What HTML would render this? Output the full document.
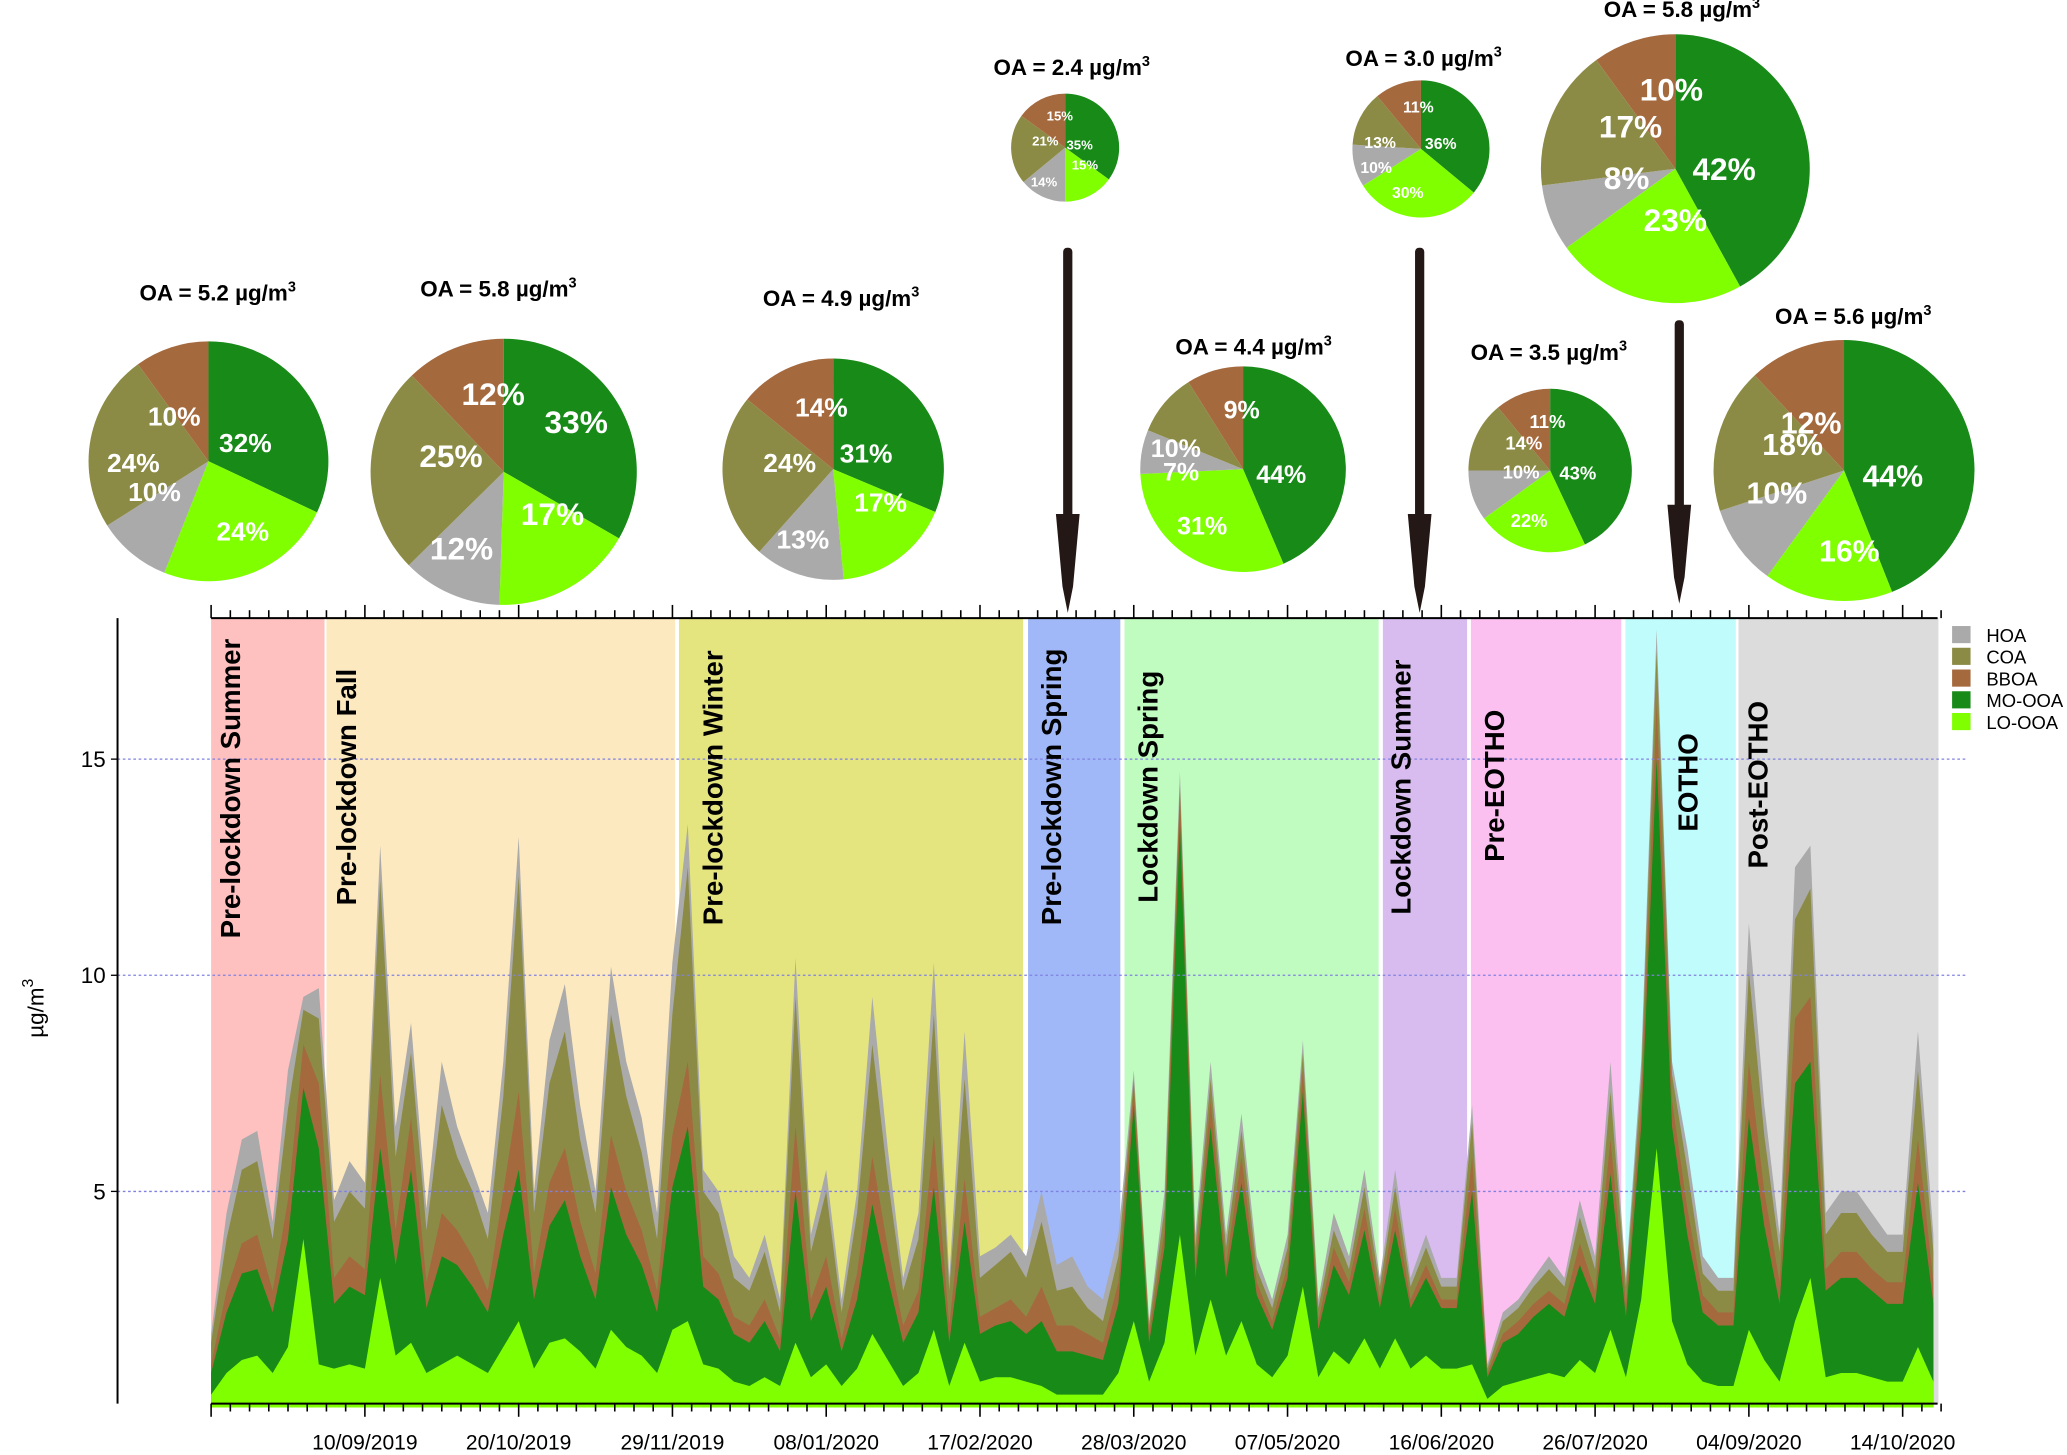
<!DOCTYPE html>
<html><head><meta charset="utf-8"><style>
html,body{margin:0;padding:0;background:#fff}
svg{display:block;font-family:"Liberation Sans",Arial,sans-serif}
</style></head><body>
<svg id="chart" width="2067" height="1455" viewBox="0 0 1568 1104" xmlns="http://www.w3.org/2000/svg">
<g id="bg"></g><g id="areas"></g><g id="grid"></g><g id="axes"></g><g id="labels"></g><g id="pies"></g><g id="arrows"></g><g id="legend"></g>
</svg>
<script>
// ---- data (4-day steps starting 01/08/2019) ----
const dayStep = 4;
const LO = [.3,.8,1.1,1.2,.8,1.4,3.9,1.0,.9,1.0,.9,3.0,1.2,1.5,.8,1.0,1.2,1.0,.8,1.4,2.0,.9,1.5,1.6,1.3,.9,1.8,1.4,1.2,.8,1.8,2.0,1.0,.9,.6,.5,.7,.5,1.5,.7,1.0,.5,.9,1.7,1.1,.5,.8,1.8,.5,1.5,.6,.7,.7,.6,.5,.3,.3,.3,.3,.8,2.0,.6,1.5,4.0,1.2,2.5,1.2,2.0,1.0,.7,1.2,2.8,.7,1.3,1.0,1.6,.9,1.6,.9,1.2,.9,.9,1.0,.2,.5,.6,.7,.8,.7,1.1,.8,1.8,.7,2.5,6.0,2.0,1.0,.6,.5,.5,1.8,1.1,.6,2.0,3.0,.7,.8,.8,.7,.6,.6,1.4,.6];
const MO = [.5,1.4,2.0,2.0,1.4,2.5,3.5,5.0,1.5,1.8,1.7,3.0,2.1,4.0,1.5,2.5,2.1,1.8,1.4,2.6,3.5,1.6,2.7,3.2,2.2,1.6,3.3,2.6,2.1,1.4,3.3,4.5,1.8,1.6,1.1,1.0,1.3,.8,3.5,1.3,1.8,.8,1.6,3.0,1.9,1.0,1.4,3.3,1.0,2.8,1.1,1.2,1.3,1.1,1.5,1.0,1.0,.9,.8,1.6,5.0,.9,2.2,9.5,1.8,4.0,1.8,3.2,1.6,1.1,1.8,4.5,1.1,2.0,1.6,2.5,1.4,2.5,1.4,1.8,1.4,1.4,4.0,.5,1.0,1.1,1.4,1.6,1.4,2.2,1.6,3.6,1.4,4.0,9.0,4.5,3.0,1.6,1.4,1.4,4.9,3.1,1.8,5.5,5.0,2.0,2.2,2.2,2.0,1.8,1.8,3.8,1.8];
const BBOA = [.2,.5,.7,.8,.5,.9,1.0,1.5,.6,.7,.6,1.7,.8,1.2,.6,1.0,.8,.7,.5,1.0,1.8,.6,1.0,1.2,.8,.6,1.2,1.0,.8,.5,1.2,1.5,.7,.6,.4,.4,.5,.3,1.5,.5,.7,.3,.6,1.1,.7,.4,.5,1.2,.4,1.0,.4,.4,.5,.4,.8,.6,.6,.5,.4,.5,.4,.2,.4,.7,.3,.6,.3,.6,.3,.2,.3,.5,.2,.4,.3,.5,.2,.5,.2,.3,.2,.2,.8,.1,.2,.3,.3,.3,.3,.5,.3,.8,.3,.5,1.3,.6,.6,.4,.3,.3,1.3,.8,.5,1.5,1.5,.5,.6,.6,.5,.5,.5,1.0,.5];
const COA = [.5,1.2,1.7,1.7,1.2,2.1,.8,1.5,1.3,1.5,1.4,4.5,1.7,1.5,1.2,2.5,1.7,1.5,1.2,2.2,5.0,1.4,2.3,2.7,1.9,1.4,2.8,2.2,1.8,1.2,2.8,4.5,1.5,1.4,.9,.8,1.1,.6,3.0,1.1,1.5,.6,1.4,2.6,1.6,.8,1.2,2.8,.8,2.3,.9,1.0,1.1,.9,1.5,.8,.9,.6,.5,.6,.2,.2,.5,.2,.4,.5,.4,.6,.3,.3,.4,.4,.3,.4,.3,.5,.3,.5,.3,.4,.3,.3,.8,.1,.3,.3,.4,.5,.4,.6,.5,1.1,.4,.6,1.2,.6,.9,.5,.5,.5,2.1,1.3,.7,2.3,2.5,.8,.9,.9,.8,.7,.7,1.6,.7];
const HOA = [.2,.6,.7,.7,.4,.9,.3,.7,.5,.7,.6,.8,.7,.7,.5,1.0,.7,.5,.6,.8,.9,.5,1.0,1.1,.8,.5,1.1,.8,.8,.6,1.2,1.0,.5,.5,.5,.3,.4,.3,.9,.4,.5,.3,.5,1.1,.7,.3,.6,1.2,.3,1.1,.5,.4,.4,.5,.7,.6,.7,.5,.5,.5,.2,.1,.4,.3,.3,.4,.3,.4,.3,.2,.3,.3,.2,.4,.3,.4,.2,.4,.2,.3,.2,.2,.4,.1,.2,.2,.2,.3,.2,.4,.3,.7,.2,.4,.5,.3,.5,.4,.3,.3,1.1,.7,.4,1.2,1.0,.5,.5,.5,.5,.4,.4,.9,.4];
const seriesNames = ["LO-OOA","MO-OOA","BBOA","COA","HOA"];
const seriesColors = ["#80ff00","#178a17","#a5693e","#8b8b45","#aaaaaa"];
const dateLabels = ["10/09/2019","20/10/2019","29/11/2019","08/01/2020","17/02/2020","28/03/2020","07/05/2020","16/06/2020","26/07/2020","04/09/2020","14/10/2020"];
const dateLabelDays = [40,80,120,160,200,240,280,320,360,400,440];
const yTicks = [5,10,15];
const periodNames = ["Pre-lockdown Summer","Pre-lockdown Fall","Pre-lockdown Winter","Pre-lockdown Spring","Lockdown Spring","Lockdown Summer","Pre-EOTHO","EOTHO","Post-EOTHO"];
const periodStart = [0,30,121.7,212.5,237.6,304.8,327.7,367.9,397.3];
const periodEnd = [29.5,120.7,211.2,236.5,303.7,326.7,366.8,396.6,449.3];
const periodColors = ["#ffc0c0","#fde9c0","#e5e580","#a0b8f8","#c0fcc0","#d8bcf0","#fcc0f0","#c0fcfc","#dcdcdc"];
const pieTitles = ["OA = 5.2","OA = 5.8","OA = 4.9","OA = 2.4","OA = 4.4","OA = 3.0","OA = 3.5","OA = 5.8","OA = 5.6"];
const pieMO = [32,33,31,35,44,36,43,42,44];
const pieLO = [24,17,17,15,31,30,22,23,16];
const pieHOA = [10,12,13,14,7,10,10,8,10];
const pieCOA = [24,25,24,21,10,13,14,17,18];
const pieBBOA = [10,12,14,15,9,11,11,10,12];

// ---- layout ----
const NS="http://www.w3.org/2000/svg";
const X0=160, PXD=2.917, Y0=1068, PXU=32.8, TOP=469, BOT=1065, XR=1470;
const xs=d=>X0+PXD*d, ys=v=>Y0-PXU*v;
function mk(tag,attrs,parent,text){const e=document.createElementNS(NS,tag);for(const k in attrs)e.setAttribute(k,attrs[k]);if(text!==undefined)e.textContent=text;parent.appendChild(e);return e;}
const G=id=>document.getElementById(id);

periodNames.forEach((p,i)=>{
  const r=mk('rect',{x:xs(periodStart[i]),y:TOP,width:xs(periodEnd[i])-xs(periodStart[i]),height:BOT-TOP,fill:periodColors[i]},G('bg'));
  
  
});

const series=[LO,MO,BBOA,COA,HOA];
const cum=LO.map(()=>0);
const layers=series.map(s=>s.map((v,i)=>cum[i]+=v));
for(let k=layers.length-1;k>=0;k--){
  let d='M'+xs(0)+','+ys(0);
  layers[k].forEach((v,i)=>{d+=' L'+xs(i*dayStep).toFixed(1)+','+ys(v).toFixed(1);});
  d+=' L'+xs((LO.length-1)*dayStep)+','+ys(0)+' Z';
  const p=mk('path',{d:d,fill:seriesColors[k]},G('areas'));
  
  
}

yTicks.forEach(t=>{
  const l=mk('line',{x1:89,x2:1492,y1:ys(t),y2:ys(t),stroke:'#8080e0','stroke-width':1,'stroke-dasharray':'2,2'},G('grid'));
  
  
  mk('line',{x1:84,x2:89,y1:ys(t),y2:ys(t),stroke:'#000'},G('axes'));
  const tx=mk('text',{x:80,y:ys(t)+6,'font-size':17,'text-anchor':'end'},G('axes'),String(t));
  
  
});
const ya=mk('line',{x1:89,x2:89,y1:TOP,y2:BOT,stroke:'#000','stroke-width':1.5},G('axes'));


const yt=mk('text',{transform:'translate(33,765) rotate(-90)','font-size':17,'text-anchor':'middle'},G('axes'));


yt.innerHTML='µg/m<tspan dy="-8" font-size="12">3</tspan>';

mk('line',{x1:X0,x2:XR,y1:TOP,y2:TOP,stroke:'#000','stroke-width':1.5},G('axes'));
const xa=mk('line',{x1:X0,x2:XR,y1:BOT,y2:BOT,stroke:'#000','stroke-width':1.5},G('axes'));


for(let d=0;d<=450;d+=5){
  const major=(d%40===0);const L=major?10:6;
  mk('line',{x1:xs(d),x2:xs(d),y1:TOP,y2:TOP-L,stroke:'#000','stroke-width':1.2},G('axes'));
  mk('line',{x1:xs(d),x2:xs(d),y1:BOT,y2:BOT+L,stroke:'#000','stroke-width':1.2},G('axes'));
}
dateLabels.forEach((s,i)=>{
  const t=mk('text',{x:xs(dateLabelDays[i]),y:1100,'font-size':16,'text-anchor':'middle'},G('axes'),s);
  
  
});

const plX=[182,270,548,805,878,1070,1141,1288,1341];
const plY=[712,687,702,702,685,694,654,631,659];
periodNames.forEach((p,i)=>{
  const t=mk('text',{transform:`translate(${plX[i]},${plY[i]}) rotate(-90)`,'font-size':21,'font-weight':'bold'},G('labels'),p);
  
  
});

const pieCX=[158,382,632,808,943,1078,1176,1271,1399];
const pieCY=[350,358,356,112,356,113,357,128,357];
const pieR=[91,101,84,41,78,52,62,102,99];
const titleX=[165,378,638,813,951,1080,1175,1276,1406];
const titleY=[228,225,232,57,269,50,273,13,246];
const pieFS=[20,24,20,10,19,12,14,24,23];
const lab=[
 [[186,336],[184,403],[117,373],[101,351],[132,316]],
 [[437,320],[419,390],[350,416],[342,346],[374,299]],
 [[657,344],[668,381],[609,409],[599,351],[623,309]],
 [[819,110],[823,125],[792,138],[793,107],[804,88]],
 [[972,360],[912,399],[896,358],[892,340],[942,311]],
 [[1093,109],[1068,146],[1044,127],[1047,108],[1076,81]],
 [[1197,359],[1160,395],[1154,358],[1156,336],[1174,320]],
 [[1308,128],[1271,167],[1234,135],[1237,96],[1268,68]],
 [[1436,361],[1403,418],[1348,374],[1360,337],[1374,321]]];
const pieCols=["#178a17","#80ff00","#aaaaaa","#8b8b45","#a5693e"];
pieTitles.forEach((tt,i)=>{
  const g=mk('g',{},G('pies'));
  
  
  const vals=[pieMO[i],pieLO[i],pieHOA[i],pieCOA[i],pieBBOA[i]];
  const tot=vals.reduce((a,b)=>a+b,0);
  let a=0;const cx=pieCX[i],cy=pieCY[i],r=pieR[i];
  vals.forEach((v,k)=>{
    const a1=a+v/tot*2*Math.PI;
    const x0=cx+r*Math.sin(a),y0=cy-r*Math.cos(a),x1=cx+r*Math.sin(a1),y1=cy-r*Math.cos(a1);
    const p=mk('path',{d:`M${cx},${cy} L${x0},${y0} A${r},${r} 0 ${a1-a>Math.PI?1:0} 1 ${x1},${y1} Z`,fill:pieCols[k]},g);
    
    
    a=a1;
  });
  vals.forEach((v,k)=>{
    const t=mk('text',{x:lab[i][k][0],y:lab[i][k][1]+pieFS[i]*0.35,'font-size':pieFS[i],'font-weight':'bold',fill:'#fff','text-anchor':'middle'},g,v+'%');
    
    
  });
  const t=mk('text',{x:titleX[i],y:titleY[i],'font-size':17,'font-weight':'bold','text-anchor':'middle'},g);
  
  
  t.innerHTML=tt+' µg/m<tspan dy="-7" font-size="11">3</tspan>';
});

[[810,188,465],[1077,188,465],[1274,243,458]].forEach(([x,y1,y2])=>{
  const g=mk('g',{},G('arrows'));
  
  
  mk('rect',{x:x-3.5,y:y1,width:7,height:(y2-y1)-70,rx:3,fill:'#231815'},g);
  mk('path',{d:`M${x-9},${y2-75} L${x+9},${y2-75} L${x+4},${y2-20} L${x},${y2} L${x-4},${y2-20} Z`,fill:'#231815'},g);
});

const legOrder=[4,3,2,1,0];
legOrder.forEach((k,j)=>{
  const y=482+j*16.5;
  const g=mk('g',{},G('legend'));
  
  
  mk('rect',{x:1481,y:y-7,width:14,height:13,fill:seriesColors[k]},g);
  mk('text',{x:1507,y:y+5,'font-size':14},g,seriesNames[k]);
});
</script>
</body></html>
